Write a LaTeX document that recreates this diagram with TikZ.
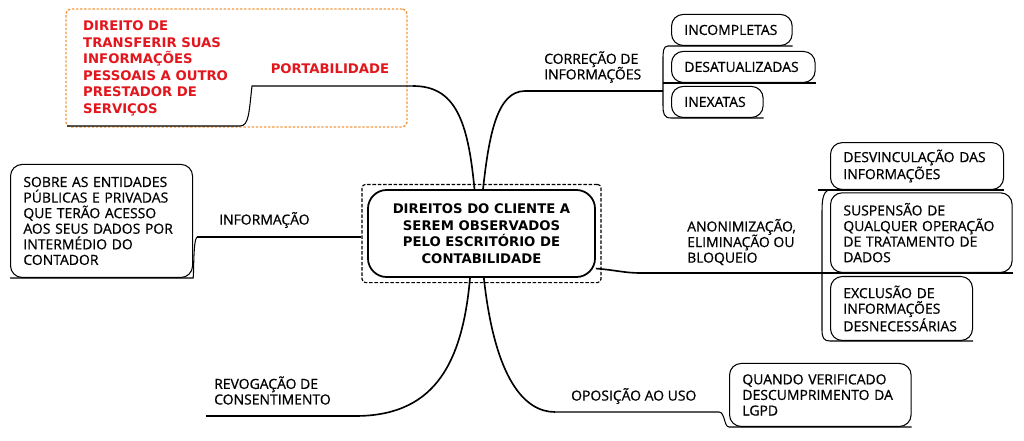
\documentclass[tikz,border=0pt]{standalone}
\usepackage{fontspec}
\setmainfont{Open Sans}[FakeBold=0.7]
\newfontfamily\dvsans{DejaVu Sans}
\usetikzlibrary{fit}
\definecolor{portred}{RGB}{226,22,28}
\definecolor{selorange}{RGB}{240,150,60}
\setlength{\lineskiplimit}{-20pt}

\begin{document}
\begin{tikzpicture}[x=0.03cm, y=-0.03cm,
    every node/.style={font=\fontsize{11.9}{13.3}\selectfont},
    lbl/.style={anchor=west, align=left, inner sep=0pt},
    strong/.style={font=\dvsans\bfseries\fontsize{11.3}{14.1}\selectfont},
    leaf/.style 2 args={draw, line width=0.9pt, rounded corners=10pt, anchor=south west, align=left,
      inner xsep=11pt, inner ysep=0pt, text width=#1, minimum height=#2},
    branch/.style={line width=1.4pt},
    twig/.style={line width=0.9pt}]
  \useasboundingbox (0,0) rectangle (1024,440);

  \node[strong, draw, line width=1.5pt, rounded corners=16pt, align=center,
    minimum width=193.8pt, minimum height=74.3pt] (root) at (481.5,233.5)
    {DIREITOS DO CLIENTE A\\SEREM OBSERVADOS\\PELO ESCRITÓRIO DE\\CONTABILIDADE};
  \node[draw, line width=1pt, dash pattern=on 3pt off 1.5pt, rounded corners=3pt, fit=(root), inner xsep=4.3pt, inner ysep=4pt] (rootframe) {};

  \node[lbl, strong, text=portred] (porttxt) at (83,68.5)
    {DIREITO DE\\TRANSFERIR SUAS\\INFORMAÇÕES\\PESSOAIS A OUTRO\\PRESTADOR DE\\SERVIÇOS};
  \node[strong, text=portred] (portlbl) at (330,69) {PORTABILIDADE};
  \node[draw=selorange, line width=1.2pt, dash pattern=on 2pt off 1.5pt, rounded corners=4pt, fit={(66,9) (407,127)}, inner sep=0pt] (portframe) {};

  \node[lbl] (corrlbl) at (544,67) {CORREÇÃO DE\\INFORMAÇÕES};
  \node[leaf={81pt}{26.5pt}] (incomp) at (671,46) {INCOMPLETAS};
  \node[leaf={100.6pt}{26.5pt}] (desat) at (671,83) {DESATUALIZADAS};
  \node[leaf={56.2pt}{26.5pt}] (inexat) at (671,118) {INEXATAS};

  \node[lbl] (infolbl) at (219,220) {INFORMAÇÃO};
  \node[leaf={133.4pt}{96.5pt}] (infobox) at (10,278)
    {SOBRE AS ENTIDADES\\PÚBLICAS E PRIVADAS\\QUE TERÃO ACESSO\\AOS SEUS DADOS POR\\INTERMÉDIO DO\\CONTADOR};

  \node[lbl] (anonlbl) at (687,242) {ANONIMIZAÇÃO,\\ELIMINAÇÃO OU\\BLOQUEIO};
  \node[leaf={125.7pt}{40pt}] (desvinc) at (830,190) {DESVINCULAÇÃO DAS\\INFORMAÇÕES};
  \node[leaf={133pt}{68pt}] (suspens) at (830,273) {SUSPENSÃO DE\\QUALQUER OPERAÇÃO\\DE TRATAMENTO DE\\DADOS};
  \node[leaf={99.2pt}{54.6pt}] (exclus) at (830,341) {EXCLUSÃO DE\\INFORMAÇÕES\\DESNECESSÁRIAS};

  \node[lbl] (revoglbl) at (214,390.5) {REVOGAÇÃO DE\\CONSENTIMENTO};

  \node[lbl] (opolbl) at (571,396) {OPOSIÇÃO AO USO};
  \node[leaf={133pt}{53.8pt}] (quando) at (729,427) {QUANDO VERIFICADO\\DESCUMPRIMENTO DA\\LGPD};

  \coordinate (portA) at (413,86);
  \coordinate (portB) at (252,86);
  \coordinate (portC) at (67,126);
  \coordinate (corrA) at (525,91);
  \coordinate (corrB) at (663,91);
  \coordinate (infoA) at (197,237);
  \coordinate (anonA) at (640,273);
  \coordinate (anonB) at (822,273);
  \coordinate (anonT) at (818,190);
  \coordinate (revA) at (355,416);
  \coordinate (revB) at (206,416);
  \coordinate (opoA) at (555,412);
  \coordinate (opoB) at (719,412);

  \draw[branch] ([xshift=-6pt]root.north) .. controls (468,120) and (455,86) .. (portA);
  \draw[twig] (portA) -- (portB) .. controls (249,112) and (249,126) .. (240,126) -- (portC);

  \draw[branch] ([xshift=1.3pt]root.north) .. controls (489,135) and (497,91) .. (corrA);
  \draw[twig] (corrA) -- (corrB);
  \draw[twig] (incomp.south east) -- (668,46) .. controls (663,46) and (663,52) .. (663,60)
    -- (663,105) .. controls (663,114) and (664,118) .. (inexat.south west) -- (inexat.south east);
  \draw[twig] (corrB |- desat.south) -- (desat.south east);

  \draw[branch] (rootframe.west |- infoA) -- (infoA);
  \draw[twig] (infoA) .. controls (193,240) and (194,275) .. (infobox.south east) -- (infobox.south west);

  \draw[branch] ([yshift=8pt]root.south east) .. controls (615,270) and (625,273) .. (anonA);
  \draw[twig] (anonA) -- (anonB) -- (suspens.south east);
  \draw[twig] (desvinc.south east) -- (anonT);
  \draw[twig] (828,190) .. controls (823,193) and (822,200) .. (822,212) -- (822,330)
    .. controls (822,338) and (824,341) .. (exclus.south west) -- (exclus.south east);

  \draw[branch] ([xshift=-9.8pt]root.south) .. controls (462,370) and (430,416) .. (revA);
  \draw[twig] (revA) -- (revB);

  \draw[branch] ([xshift=2pt]root.south) .. controls (495,380) and (525,412) .. (opoA);
  \draw[twig] (opoA) -- (opoB) .. controls (725,412) and (724,427) .. (quando.south west) -- (quando.south east);
\end{tikzpicture}
\end{document}
